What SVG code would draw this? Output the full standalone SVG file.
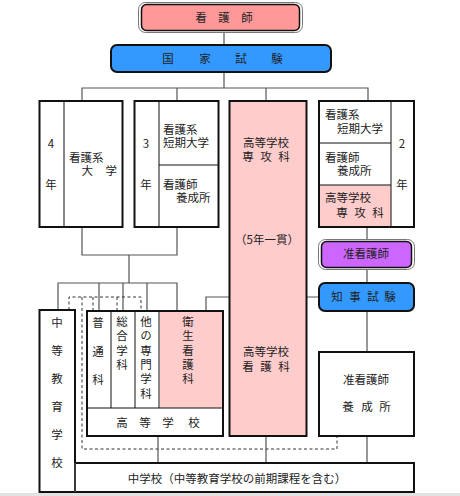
<svg xmlns="http://www.w3.org/2000/svg" width="460" height="496" viewBox="0 0 460 496">
<style>
text{font-family:"Noto Sans CJK JP","Noto Sans CJK SC",sans-serif;font-size:11.5px;fill:#222;}
.c{text-anchor:middle;}
.v{writing-mode:vertical-rl;}
.box{fill:#fff;stroke:#111;stroke-width:2;}
.pink{fill:#FFCCCC;}
.div{stroke:#111;stroke-width:1;fill:none;}
.con{stroke:#555;stroke-width:1.2;fill:none;}
.dash{stroke:#333;stroke-width:1;fill:none;stroke-dasharray:3,2.5;}
.blue{fill:#3399FF;stroke:#111;stroke-width:2;}
.outer{fill:#fff;stroke:#777;stroke-width:1;}
</style>
<rect width="460" height="496" fill="#fff"/>
<line x1="0" y1="494.5" x2="460" y2="494.5" stroke="#e2e2e2" stroke-width="3"/>

<g id="connectors">
<line class="con" x1="224" y1="32" x2="224" y2="45"/>
<path class="con" d="M224 72V88M82 101V88H368V101M177 88V101M266 88V101"/>
<path class="con" d="M82 227V255H177V227M129 255V283M58 310V283H177V311M99 283V311M123 283V311M147 283V311"/>
<path class="con" d="M206 311V297H229M307 297H318"/>
<line class="dash" x1="232" y1="297" x2="306" y2="297"/>
<path class="dash" d="M69 310V297H141V311M93 297V311M117 297V311M82 297V449H337V437"/>
<path class="con" d="M367 227V240M367 269V282M367 311V352M367 436V463M266 436V463M158 436V463"/>
</g>

<g id="kangoshi">
<rect class="outer" x="138.5" y="2.5" width="164" height="30" rx="7"/>
<rect x="141.5" y="4.5" width="158" height="26" rx="5" fill="#FF9999" stroke="#111" stroke-width="1.5"/>
<text class="c" y="22"><tspan x="201">看</tspan><tspan x="224">護</tspan><tspan x="247">師</tspan></text>
</g>

<g id="kokka">
<rect class="blue" x="111" y="45" width="220" height="27" rx="6"/>
<text class="c" y="63"><tspan x="168">国</tspan><tspan x="205">家</tspan><tspan x="241">試</tspan><tspan x="277">験</tspan></text>
</g>

<g id="daigaku4">
<rect class="box" x="39.5" y="101" width="83" height="126"/>
<line class="div" x1="64" y1="101" x2="64" y2="227"/>
<text class="c" x="51" y="148">4<tspan x="51" dy="41">年</tspan></text>
<text x="69" y="162">看護系<tspan x="81.5" dy="13">大</tspan><tspan x="105.5">学</tspan></text>
</g>

<g id="tanki3">
<rect class="box" x="134.5" y="101" width="84" height="126"/>
<line class="div" x1="159" y1="101" x2="159" y2="227"/>
<line class="div" x1="159" y1="165" x2="218" y2="165"/>
<text class="c" x="146" y="148">3<tspan x="146" dy="41">年</tspan></text>
<text x="163" y="134">看護系<tspan x="163" dy="13">短期大学</tspan></text>
<text x="163" y="189">看護師<tspan x="176" dy="13">養成所</tspan></text>
</g>

<g id="senkoka">
<rect class="box pink" x="229.5" y="101" width="77" height="335"/>
<text class="c" x="266" y="147">高等学校<tspan x="248" dy="14">専</tspan><tspan x="266">攻</tspan><tspan x="284">科</tspan></text>
<text class="c" x="267" y="244">（5年一貫）</text>
<text class="c" x="266" y="356">高等学校<tspan x="248" dy="15">看</tspan><tspan x="266">護</tspan><tspan x="284">科</tspan></text>
</g>

<g id="right2">
<rect class="box" x="319" y="101" width="95" height="126"/>
<rect class="pink" x="320" y="185" width="71" height="41"/>
<line class="div" x1="391" y1="101" x2="391" y2="227"/>
<line class="div" x1="319" y1="143" x2="391" y2="143"/>
<line class="div" x1="319" y1="185" x2="391" y2="185"/>
<text x="325" y="119">看護系<tspan x="337" dy="14">短期大学</tspan></text>
<text x="325" y="162">看護師<tspan x="337" dy="13">養成所</tspan></text>
<text x="325" y="202">高等学校<tspan class="c" x="342" dy="15">専</tspan><tspan class="c" x="360">攻</tspan><tspan class="c" x="378">科</tspan></text>
<text class="c" x="402" y="148">2<tspan x="402" dy="41">年</tspan></text>
</g>

<g id="junkangoshi">
<rect class="outer" x="318.5" y="239.5" width="96" height="30" rx="7"/>
<rect x="321.5" y="241.5" width="90" height="26" rx="5" fill="#CC66FF" stroke="#111" stroke-width="1.5"/>
<text class="c" x="366" y="258">准看護師</text>
</g>

<g id="chiji">
<rect class="blue" x="319" y="283" width="95" height="28" rx="6"/>
<text class="c" y="301"><tspan x="337">知</tspan><tspan x="355">事</tspan><tspan x="373">試</tspan><tspan x="390">験</tspan></text>
</g>

<g id="junyosei">
<rect class="box" x="319" y="352" width="95" height="84"/>
<text class="c" x="366" y="384">准看護師<tspan x="348" dy="27">養</tspan><tspan x="367">成</tspan><tspan x="385">所</tspan></text>
</g>

<g id="chuto">
<rect class="box" x="39.5" y="310" width="35.5" height="182"/>
<text class="v" x="57" y="317" style="letter-spacing:16.5px">中等教育学校</text>
</g>

<g id="chugakko">
<rect x="75" y="463" width="339" height="29" fill="#fff" stroke="#111" stroke-width="2"/>
<line x1="75" y1="463" x2="75" y2="492" stroke="#666" stroke-width="1"/>
<text class="c" x="237" y="483">中学校（中等教育学校の前期課程を含む）</text>
</g>

<g id="koko">
<rect class="box" x="87" y="311" width="136" height="125"/>
<rect class="pink" x="160" y="312" width="62" height="96"/>
<line class="div" x1="111" y1="311" x2="111" y2="408"/>
<line class="div" x1="135" y1="311" x2="135" y2="408"/>
<line class="div" x1="159" y1="311" x2="159" y2="408"/>
<line class="div" x1="87" y1="408" x2="223" y2="408"/>
<text class="v" x="98" y="317" style="letter-spacing:17px">普通科</text>
<text class="v" x="122" y="316" style="letter-spacing:2.8px">総合学科</text>
<text class="v" x="146" y="316" style="letter-spacing:2.8px">他の専門学科</text>
<text class="v" x="188" y="316" style="letter-spacing:2.8px">衛生看護科</text>
<text class="c" y="427"><tspan x="122">高</tspan><tspan x="145">等</tspan><tspan x="168">学</tspan><tspan x="194">校</tspan></text>
</g>
</svg>
